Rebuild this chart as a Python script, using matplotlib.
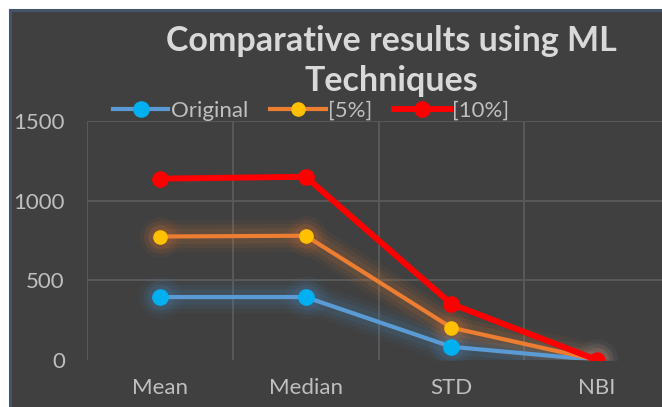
import matplotlib
matplotlib.use("Agg")
import matplotlib.pyplot as plt
from matplotlib.patches import Rectangle
from matplotlib.lines import Line2D

categories = ["Mean", "Median", "STD", "NBI"]
original = [395, 395, 83, 0]
pct5 = [775, 780, 203, 0]
pct10 = [1138, 1150, 352, 0]
series_names = ["Original", "[5%]", "[10%]"]
yticks = [0, 500, 1000, 1500]

plt.rcParams['font.family'] = ['Lato', 'DejaVu Sans']

W, H = 662, 407
fig = plt.figure(figsize=(W/100, H/100), dpi=100)
fig.patch.set_facecolor("white")

# chart area background with border on top/left
fig.add_artist(Rectangle((10/W, 0), 1, (H-10)/H, transform=fig.transFigure,
                         facecolor="#404040", edgecolor="none", zorder=0))
fig.add_artist(Line2D([10/W, 10/W], [0, (H-10)/H], transform=fig.transFigure,
                      color="#44546a", lw=2.2, zorder=1))
fig.add_artist(Line2D([10/W, 1], [(H-10)/H, (H-10)/H], transform=fig.transFigure,
                      color="#44546a", lw=2.2, zorder=1))

ax = fig.add_axes([87/W, 47/H, (670-87)/W, (360-121)/H])
ax.set_facecolor("none")
x = list(range(len(categories)))

styles = [
    (original, "#5b9bd5", "#00b0f0", 3.0, 11, "#4a8fd0"),
    (pct5, "#ed7d31", "#ffc000", 3.0, 9.5, "#ed7d31"),
    (pct10, "#ff0000", "#ff0000", 4.3, 11, None),
]

for (vals, lc, mc, lw, ms, glow), name in zip(styles, series_names):
    if glow:
        for k, a in [(10, 0.05), (7, 0.07), (4, 0.10)]:
            ax.plot(x, vals, color=glow, lw=lw + 2*k, alpha=a,
                    solid_capstyle="round", solid_joinstyle="round", zorder=2)
            ax.plot(x, vals, ls="none", marker="o", ms=ms + 2*k,
                    mfc=glow, mec="none", alpha=a, zorder=2)
    ax.plot(x, vals, color=lc, lw=lw, marker="o", ms=ms, mfc=mc, mec=mc,
            label=name, zorder=3)

ax.set_xlim(-0.5, len(categories) - 0.5)
ax.set_ylim(0, 1500)
ax.set_xticks(x)
ax.set_xticklabels(categories)
ax.set_yticks(yticks)
ax.set_yticklabels([str(v) for v in yticks])
ax.set_xticks([i - 0.5 for i in range(len(categories) + 1)], minor=True)
ax.tick_params(axis="both", which="both", length=0, colors="#bfbfbf",
               labelsize=16)
ax.tick_params(axis="y", pad=16)
ax.tick_params(axis="x", pad=13)
ax.grid(False)
ax.grid(axis="x", which="minor", color="#595959", lw=1.4)
ax.grid(axis="y", which="major", color="#595959", lw=1.4)
ax.yaxis.get_gridlines()[0].set_visible(False)
for s in ax.spines.values():
    s.set_visible(False)

fig.text(391/W, 1 - 61/H, "Comparative results using ML\nTechniques",
         ha="center", va="center", fontsize=24.5, fontweight="bold",
         color="#d9d9d9", linespacing=1.32)

handles, labels = ax.get_legend_handles_labels()
leg = fig.legend(handles, labels, loc="center", bbox_to_anchor=(311/W, 1 - 111/H),
                 ncol=3, frameon=False, fontsize=16, handlelength=2.5,
                 handletextpad=0.1, columnspacing=1.0, borderpad=0)
for t in leg.get_texts():
    t.set_color("#bfbfbf")

fig.savefig("out.png", dpi=100, facecolor=fig.get_facecolor())
